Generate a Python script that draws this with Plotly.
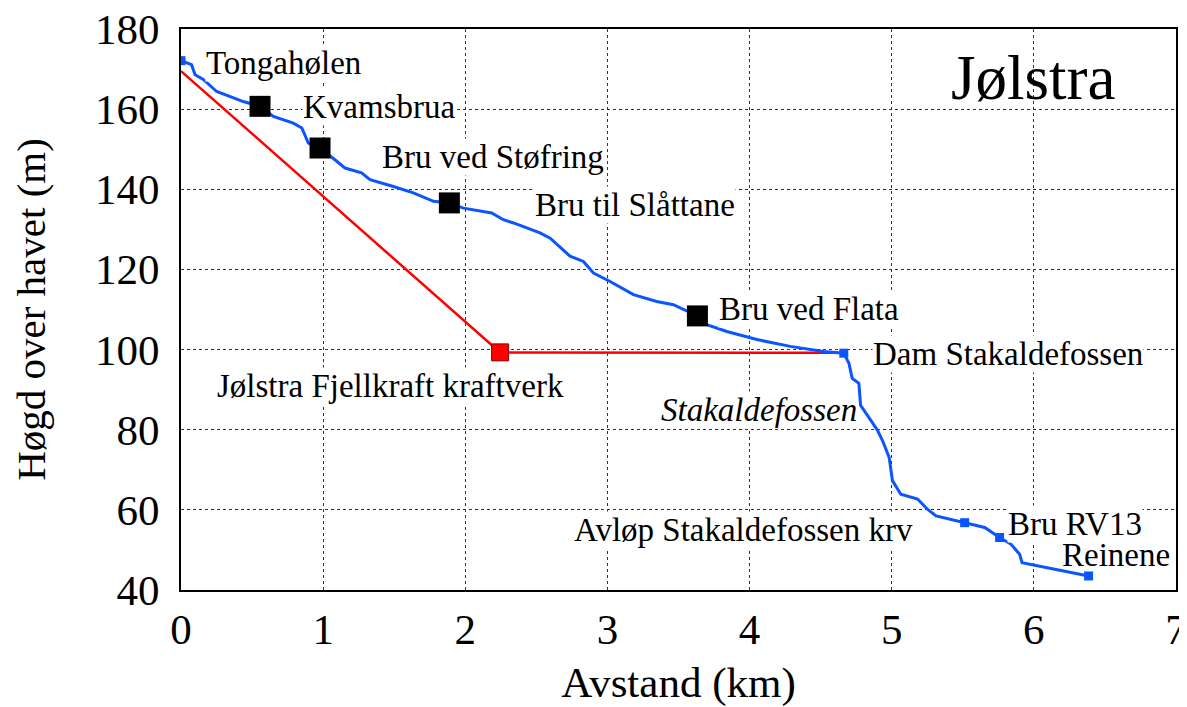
import plotly.graph_objects as go

# Blue river profile (distance km, elevation m)
river_x = [0.0, 0.074, 0.099, 0.157, 0.251, 0.345, 0.438, 0.556, 0.65, 0.79, 0.85, 0.896, 0.978,
           1.096, 1.154, 1.27, 1.33, 1.494, 1.635, 1.776, 1.888, 1.987, 2.186, 2.268, 2.339, 2.526,
           2.597, 2.737, 2.831, 2.902, 3.019, 3.183, 3.347, 3.464, 3.633, 3.699, 3.84, 4.051,
           4.286, 4.52, 4.663, 4.699, 4.722, 4.769, 4.781, 4.852, 4.899, 4.935, 4.982, 5.005,
           5.064, 5.182, 5.253, 5.312, 5.513, 5.654, 5.759, 5.84, 5.9, 5.917, 6.385]
river_y = [172.1, 171.1, 168.6, 167.4, 164.4, 163.2, 161.9, 160.7, 158.2, 156.5, 155.3, 151.5, 150.3,
           147.0, 145.3, 144.1, 142.4, 140.7, 139.1, 137.0, 136.6, 135.3, 134.1, 132.4, 131.6, 129.1,
           127.8, 123.3, 122.0, 119.1, 117.0, 113.7, 112.0, 111.2, 108.4, 106.2, 104.5, 102.5,
           100.8, 99.5, 99.1, 96.6, 92.8, 91.6, 86.1, 82.4, 79.9, 77.3, 73.1, 67.3,
           63.9, 62.7, 60.1, 58.5, 56.8, 55.6, 53.1, 51.4, 48.9, 46.8, 43.5]

# Small blue point markers
point_x = [0.0, 4.663, 5.513, 5.759, 6.385]
point_y = [172.1, 99.1, 56.8, 53.1, 43.5]

# Bridges (black squares)
bridge_x = [0.556, 0.978, 1.888, 3.633]
bridge_y = [160.7, 150.3, 136.6, 108.4]

# Red tunnel / power plant line
tunnel_x = [0.0, 2.245, 4.62]
tunnel_y = [169.5, 99.3, 99.2]
plant_x = [2.245]
plant_y = [99.3]

# Labels
label_text = ["Tongahølen", "Kvamsbrua", "Bru ved Støfring", "Bru til Slåttane", "Bru ved Flata",
              "Dam Stakaldefossen", "Jølstra Fjellkraft kraftverk", "<i>Stakaldefossen</i>",
              "Avløp Stakaldefossen krv", "Bru RV13", "Reinene"]
label_x = [0.169, 0.85, 1.41, 2.48, 3.78, 4.86, 0.246, 3.37, 2.76, 5.81, 6.19]
label_y = [171.6, 160.6, 148.1, 136.2, 110.2, 99.0, 90.8, 85.0, 55.0, 56.5, 48.8]
label_bg = ["white"] * 10 + ["rgba(0,0,0,0)"]

x_ticks = [0, 1, 2, 3, 4, 5, 6, 7]
y_ticks = [40, 60, 80, 100, 120, 140, 160, 180]

FONT = "Liberation Serif, Times New Roman, serif"
BLUE = "#0a55ff"

fig = go.Figure()
fig.add_trace(go.Scatter(x=tunnel_x, y=tunnel_y, mode="lines",
                         line=dict(color="#ff0000", width=2.5), hoverinfo="skip"))
fig.add_trace(go.Scatter(x=river_x, y=river_y, mode="lines",
                         line=dict(color=BLUE, width=3), hoverinfo="skip"))
fig.add_trace(go.Scatter(x=point_x, y=point_y, mode="markers",
                         marker=dict(symbol="square", size=9, color=BLUE), hoverinfo="skip"))
fig.add_trace(go.Scatter(x=bridge_x, y=bridge_y, mode="markers",
                         marker=dict(symbol="square", size=21, color="black"), hoverinfo="skip"))
fig.add_trace(go.Scatter(x=plant_x, y=plant_y, mode="markers",
                         marker=dict(symbol="square", size=17, color="#ff0000",
                                     line=dict(color="#8b0000", width=1)), hoverinfo="skip"))

for t, x, y, bg in zip(label_text, label_x, label_y, label_bg):
    fig.add_annotation(x=x, y=y, xref="x", yref="y", text=t, showarrow=False,
                       xanchor="left", yanchor="middle", bgcolor=bg, borderpad=0,
                       font=dict(family=FONT, size=33, color="black"))

fig.add_annotation(x=5.40, y=167.8, xref="x", yref="y", text="Jølstra", showarrow=False,
                   xanchor="left", yanchor="middle",
                   font=dict(family=FONT, size=63, color="black"))

grid = dict(showgrid=True, gridcolor="#333333", gridwidth=1, griddash="3px,3px",
            showline=True, linecolor="black", linewidth=2, mirror=True, zeroline=False,
            ticks="", automargin=False, ticklabeloverflow="allow",
            tickfont=dict(family=FONT, size=43, color="black"))

fig.update_xaxes(range=[0, 7], tickvals=x_ticks, ticklabelstandoff=0,
                 title=dict(text="Avstand (km)", font=dict(family=FONT, size=43, color="black"),
                            standoff=36), **grid)
fig.update_yaxes(range=[40, 180], tickvals=y_ticks, ticklabelstandoff=11,
                 title=dict(text="Høgd over havet (m)", font=dict(family=FONT, size=41, color="black"),
                            standoff=41), **grid)

# page has an 8px body margin, so the figure is sized/margined to compensate
fig.update_layout(width=1179, height=699, showlegend=False,
                  plot_bgcolor="white", paper_bgcolor="white",
                  margin=dict(l=173, r=11, t=21, b=117),
                  font=dict(family=FONT))

fig.write_html("out.html")
